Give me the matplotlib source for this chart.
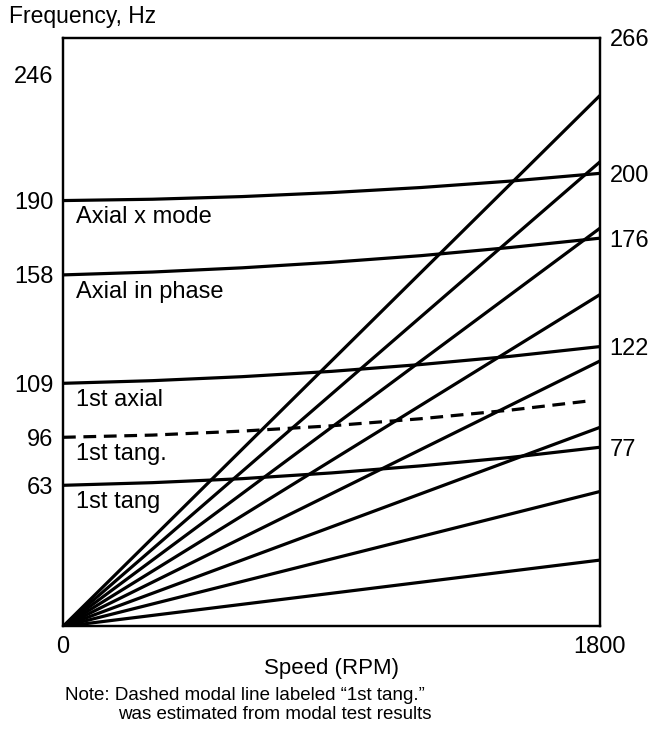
import matplotlib
matplotlib.use("Agg")
import matplotlib.pyplot as plt

plt.rcParams["font.family"] = ["Liberation Sans", "DejaVu Sans"]

# Speed range (RPM) and frequency range (Hz)
SPEED_MAX = 1800
FREQ_MAX = 266

# Order lines: frequency reached at 1800 RPM (start at 0 Hz, 0 RPM)
order_end_hz = [30, 61, 90, 120, 150, 180, 210, 240]

# Modal lines
mode_rpm = [0, 300, 600, 900, 1200, 1500, 1800]
axial_x_mode = [192.5, 193.1, 194.3, 196.1, 198.4, 201.3, 204.8]
axial_in_phase = [158.9, 160.2, 162.1, 164.6, 167.6, 171.3, 175.5]
first_axial = [109.9, 111.1, 112.9, 115.3, 118.4, 122.1, 126.5]
first_tang_2 = [63.8, 65.0, 66.8, 69.4, 72.6, 76.4, 81.0]

# Dashed (estimated) modal line
dashed_rpm = [0, 300, 600, 900, 1200, 1500, 1773]
first_tang_est = [85.5, 86.5, 88.3, 90.7, 93.9, 97.8, 102.1]

mode_names = ["Axial x mode", "Axial in phase", "1st axial", "1st tang.", "1st tang"]
left_labels = ["246", "190", "158", "109", "96", "63"]
right_labels = ["266", "200", "176", "122", "77"]

fig = plt.figure(figsize=(6.65, 7.34), dpi=100)
ax = fig.add_axes([0.0947, 0.1465, 0.8075, 0.8018])

lw = 2.3
for f in order_end_hz:
    ax.plot([0, SPEED_MAX], [0, f], color="black", lw=lw, solid_capstyle="butt")

for m in [axial_x_mode, axial_in_phase, first_axial, first_tang_2]:
    ax.plot(mode_rpm, m, color="black", lw=lw)
ax.plot(dashed_rpm, first_tang_est, color="black", lw=lw, dashes=(4.0, 2.4))

# Mode names under each line
starts = [axial_x_mode[0], axial_in_phase[0], first_axial[0], first_tang_est[0], first_tang_2[0]]
for name, y0 in zip(mode_names, starts):
    ax.annotate(name, xy=(0, y0), xytext=(9.5, -12), textcoords="offset points",
                ha="left", va="center", fontsize=17)

ax.set_xlim(0, SPEED_MAX)
ax.set_ylim(0, FREQ_MAX)

# Left: start frequencies, plus the top label
ax.set_yticks([249.3] + starts)
ax.set_yticklabels(left_labels, fontsize=17)
ax.set_xticks([0, SPEED_MAX])
ax.set_xticklabels(["0", "1800"], fontsize=17)
ax.tick_params(length=0, pad=7)

# Right: end frequencies, plus the top label
ax2 = ax.twinx()
ax2.set_ylim(0, FREQ_MAX)
ax2.set_yticks([FREQ_MAX, axial_x_mode[-1], axial_in_phase[-1], first_axial[-1], first_tang_2[-1]])
ax2.set_yticklabels(right_labels, fontsize=17)
ax2.tick_params(length=0, pad=7)

for a in (ax, ax2):
    for s in a.spines.values():
        s.set_linewidth(1.6)

ax.set_xlabel("Speed (RPM)", fontsize=16, labelpad=0)
fig.text(0.014, 0.977, "Frequency, Hz", fontsize=16.5, ha="left", va="center")
fig.text(0.097, 0.053, "Note: Dashed modal line labeled \u201c1st tang.\u201d",
         fontsize=13.5, ha="left", va="center")
fig.text(0.177, 0.026, "was estimated from modal test results",
         fontsize=13.5, ha="left", va="center")

fig.savefig("out.png", dpi=100)
